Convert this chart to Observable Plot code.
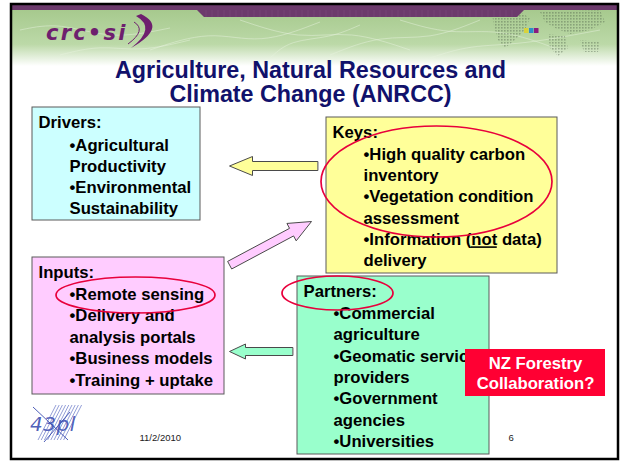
<!DOCTYPE html>
<html><head><meta charset="utf-8">
<script src="https://cdn.jsdelivr.net/npm/d3@7"></script>
<script src="https://cdn.jsdelivr.net/npm/@observablehq/plot@0.6"></script>
<style>html,body{margin:0;padding:0;background:#fff;} svg{display:block}</style>
</head><body><div id="chart"></div>
<script>
// ---- content ----
const titleLines = ["Agriculture, Natural Resources and", "Climate Change (ANRCC)"];
const boxHeads = ["Drivers:", "Keys:", "Inputs:", "Partners:"];
const driversItems = ["•Agricultural", "Productivity", "•Environmental", "Sustainability"];
const keysItems = ["•High quality carbon", "inventory", "•Vegetation condition", "assessment", "•Information (not data)", "delivery"];
const inputsItems = ["•Remote sensing", "•Delivery and", "analysis portals", "•Business models", "•Training + uptake"];
const partnersItems = ["•Commercial", "agriculture", "•Geomatic services", "providers", "•Government", "agencies", "•Universities"];
const calloutLines = ["NZ Forestry", "Collaboration?"];
const footerDate = "11/2/2010";
const pageNumber = "6";
const logoText = "crc•si";
const partnerLogo = "43pl";
const underlined = {line: "•Information (not data)", prefix: "•Information (", word: "not"};

// ---- layout (slide pixel coordinates) ----
const W = 623, H = 461;
const boxLayout = [
  {x1: 32, y1: 107, x2: 200, y2: 220, fill: "#ccffff", hx: 38, hy: 127.5, ix: 69, iy: 150, step: 21},
  {x1: 326, y1: 117, x2: 557, y2: 273, fill: "#ffff99", hx: 332, hy: 137, ix: 363, iy: 159.5, step: 21.2},
  {x1: 32, y1: 257, x2: 224, y2: 394, fill: "#ffccff", hx: 38, hy: 277, ix: 69, iy: 299, step: 21.6},
  {x1: 297, y1: 276, x2: 489, y2: 454, fill: "#99ffcc", hx: 303, hy: 296, ix: 333, iy: 318.5, step: 21.3}
];
const boxItems = [driversItems, keysItems, inputsItems, partnersItems];
const arrowLayout = [
  {tail: [317, 165.5], tip: [229, 165.5], shaft: 9, head: 19, headLen: 23, fill: "#ffff99"},
  {tail: [229.5, 264.5], tip: [311, 221], shaft: 8.6, head: 19.7, headLen: 22.6, fill: "#ffccff"},
  {tail: [292, 351], tip: [229, 351], shaft: 8, head: 15, headLen: 16, fill: "#99ffcc"}
];
const ellipseLayout = [
  {cx: 436.5, cy: 181.5, rx: 115.5, ry: 55.5},
  {cx: 135.5, cy: 295, rx: 79.5, ry: 18},
  {cx: 337.5, cy: 293, rx: 55.5, ry: 17}
];
const calloutBox = {x1: 465, y1: 349, x2: 605, y2: 396, cx: 535, y: [368, 388]};
const titleLayout = {cx: 310, y: [77.5, 101.5]};
const frame = {x1: 11, y1: 4, x2: 618, y2: 459};
const FONT = "'Liberation Sans', Arial, Helvetica, sans-serif";
const BODY = 16.7;

// ---- derived tables ----
const textRows = boxLayout.flatMap((b, i) => [
  {text: boxHeads[i], x: b.hx, y: b.hy},
  ...boxItems[i].map((t, j) => ({text: t, x: b.ix, y: b.iy + j * b.step}))
]);
const titleRows = titleLines.map((t, i) => ({text: t, x: titleLayout.cx, y: titleLayout.y[i]}));
const calloutRows = calloutLines.map((t, i) => ({text: t, x: calloutBox.cx, y: calloutBox.y[i]}));

const ctx = document.createElement("canvas").getContext("2d");
ctx.font = `bold ${BODY}px 'Liberation Sans'`;
const ulRow = textRows.find(r => r.text === underlined.line);
const ulX1 = ulRow.x + ctx.measureText(underlined.prefix).width;
const ulX2 = ulX1 + ctx.measureText(underlined.word).width;
const underlineRows = [{x1: ulX1, x2: ulX2, y: ulRow.y + 2.3}];

function arrowPolygon(a, id) {
  const [tx, ty] = a.tail, [px, py] = a.tip;
  const dx = px - tx, dy = py - ty, L = Math.hypot(dx, dy);
  const ux = dx / L, uy = dy / L, nx = -uy, ny = ux;
  const bx = px - ux * a.headLen, by = py - uy * a.headLen;
  const s = a.shaft / 2, h = a.head / 2;
  return [[tx + nx * s, ty + ny * s], [bx + nx * s, by + ny * s], [bx + nx * h, by + ny * h], [px, py],
          [bx - nx * h, by - ny * h], [bx - nx * s, by - ny * s], [tx - nx * s, ty - ny * s]]
    .map(([x, y]) => ({x, y, id}));
}

// ---- custom decorations drawn through the plot's scales ----
function header(index, {x, y}) {
  const g = d3.create("svg:g");
  const defs = g.append("defs");
  const lg = defs.append("linearGradient").attr("id", "hdrGrad").attr("x1", 0).attr("y1", 0).attr("x2", 0).attr("y2", 1);
  lg.append("stop").attr("offset", "0%").attr("stop-color", "#a6c98d");
  lg.append("stop").attr("offset", "62%").attr("stop-color", "#bcd9a8");
  lg.append("stop").attr("offset", "100%").attr("stop-color", "#ffffff");
  const pat = defs.append("pattern").attr("id", "dotPat").attr("width", 3).attr("height", 3).attr("patternUnits", "userSpaceOnUse");
  pat.append("rect").attr("width", 1.6).attr("height", 1.6).attr("fill", "#4d5f48");
  g.append("rect").attr("x", x(frame.x1)).attr("y", y(9)).attr("width", x(frame.x2) - x(frame.x1))
    .attr("height", y(66) - y(9)).attr("fill", "url(#hdrGrad)");
  // faint vein texture
  const veins = [
    [[20, 30], [60, 22], [110, 40], [170, 28]], [[150, 50], [210, 30], [260, 45], [320, 22]],
    [[240, 20], [300, 40], [350, 30], [410, 50]], [[330, 55], [380, 35], [430, 40], [480, 20]],
    [[400, 20], [450, 35], [500, 28], [560, 50]], [[60, 55], [100, 45], [140, 52], [190, 40]],
    [[270, 58], [290, 40], [330, 38], [360, 25]], [[430, 58], [470, 45], [520, 45], [600, 30]]
  ];
  const line = d3.line().curve(d3.curveBasis).x(d => x(d[0])).y(d => y(d[1]));
  veins.forEach(v => g.append("path").attr("d", line(v)).attr("fill", "none")
    .attr("stroke", "#e8f2df").attr("stroke-opacity", 0.6).attr("stroke-width", 0.8));
  // dotted world map hint
  const blobs = [
    "M 492 14 L 520 12 L 530 18 L 525 30 L 515 40 L 505 48 L 498 40 L 494 26 Z",
    "M 540 12 L 600 10 L 605 22 L 590 30 L 570 34 L 555 28 L 545 22 Z",
    "M 548 34 L 565 36 L 568 48 L 558 56 L 550 48 Z",
    "M 580 40 L 600 42 L 598 52 L 584 52 Z"
  ];
  blobs.forEach(b => g.append("path").attr("d", b.replace(/(\d+\.?\d*) (\d+\.?\d*)/g, (m, a, c) => `${x(+a)} ${y(+c)}`))
    .attr("fill", "url(#dotPat)").attr("opacity", 0.4));
  // purple band
  const band = [[11, 4], [618, 4], [618, 10], [524, 10], [517, 17], [204, 17], [197, 10], [11, 10]];
  g.append("path").attr("d", "M" + band.map(p => `${x(p[0])},${y(p[1])}`).join("L") + "Z").attr("fill", "#6c3a6c");
  for (let xi = 206; xi < 516; xi += 6) g.append("line").attr("x1", x(xi)).attr("x2", x(xi)).attr("y1", y(10)).attr("y2", y(17))
    .attr("stroke", "#7d4c7d").attr("stroke-width", 0.6);
  // small squares
  [["#d8d33a", 524], ["#2d8fc8", 529], ["#8b1c7f", 534]].forEach(([c, xs]) =>
    g.append("rect").attr("x", x(xs)).attr("y", y(28)).attr("width", x(xs + 4.5) - x(xs)).attr("height", y(33) - y(28)).attr("fill", c));
  // crc•si logo
  g.append("text").attr("x", x(46)).attr("y", y(40)).attr("text-anchor", "start")
    .attr("font-family", "'DejaVu Sans', Verdana, sans-serif").attr("font-weight", "bold")
    .attr("font-style", "italic").attr("font-size", 21).attr("letter-spacing", 2.2).attr("fill", "#6e1f6e").text(logoText);
  g.append("path").attr("d", `M ${x(141)} ${y(14)} Q ${x(168)} ${y(27)} ${x(131)} ${y(48)} Q ${x(157)} ${y(28)} ${x(136)} ${y(16)} Z`).attr("fill", "#6e1f6e");
  g.append("path").attr("d", `M ${x(134)} ${y(22)} Q ${x(147)} ${y(30)} ${x(128)} ${y(44)}`).attr("fill", "none").attr("stroke", "#6e1f6e").attr("stroke-width", 1);
  return g.node();
}

function ellipses(index, {x, y}) {
  const g = d3.create("svg:g");
  for (const e of ellipseLayout) {
    g.append("ellipse").attr("cx", x(e.cx)).attr("cy", y(e.cy))
      .attr("rx", x(e.cx + e.rx) - x(e.cx)).attr("ry", y(e.cy + e.ry) - y(e.cy))
      .attr("fill", "none").attr("stroke", "#e8003c").attr("stroke-width", 1.7);
  }
  return g.node();
}

function footerLogo(index, {x, y}) {
  const g = d3.create("svg:g");
  g.append("text").attr("x", x(30)).attr("y", y(431)).attr("text-anchor", "start")
    .attr("font-family", "'DejaVu Sans', sans-serif")
    .attr("font-style", "italic").attr("font-size", 20).attr("letter-spacing", 0.5).attr("fill", "#3a4cb0")
    .attr("fill-opacity", 0.9).text(partnerLogo);
  for (let k = 0; k < 9; k++) {
    const ox = 38 + k * 3.2;
    g.append("line").attr("x1", x(ox)).attr("y1", y(440)).attr("x2", x(ox + 18)).attr("y2", y(405))
      .attr("stroke", "#5566c0").attr("stroke-width", 0.8).attr("stroke-opacity", 0.8);
  }
  g.append("line").attr("x1", x(33)).attr("y1", y(407)).attr("x2", x(68)).attr("y2", y(440)).attr("stroke", "#3a4cb0").attr("stroke-width", 0.9);
  g.append("line").attr("x1", x(44)).attr("y1", y(442)).attr("x2", x(70)).attr("y2", y(412)).attr("stroke", "#3a4cb0").attr("stroke-width", 0.9);
  return g.node();
}

const chart = Plot.plot({
  width: W, height: H, margin: 0,
  style: {background: "white", fontFamily: FONT, overflow: "visible"},
  x: {domain: [0, W], range: [0, W], axis: null},
  y: {domain: [0, H], range: [0, H], axis: null},
  marks: [
    header,
    Plot.text(titleRows, {x: "x", y: "y", text: "text", textAnchor: "middle", lineAnchor: "bottom",
      fontSize: 23.3, fontWeight: "bold", fill: "#11116b", fontFamily: FONT}),
    Plot.rect(boxLayout, {x1: "x1", x2: "x2", y1: "y1", y2: "y2", fill: "fill", stroke: "#5a5a5a", strokeWidth: 1}),
    ...arrowLayout.map((a, i) => Plot.line(arrowPolygon(a, i), {x: "x", y: "y", curve: "linear-closed",
      fill: a.fill, stroke: "#4a4a4a", strokeWidth: 1})),
    Plot.text(textRows, {x: "x", y: "y", text: "text", textAnchor: "start", lineAnchor: "bottom",
      fontSize: BODY, fontWeight: "bold", fill: "#000", fontFamily: FONT}),
    Plot.ruleY(underlineRows, {y: "y", x1: "x1", x2: "x2", stroke: "#000", strokeWidth: 1.6}),
    ellipses,
    Plot.rect([calloutBox], {x1: "x1", x2: "x2", y1: "y1", y2: "y2", fill: "#ff0033"}),
    Plot.text(calloutRows, {x: "x", y: "y", text: "text", textAnchor: "middle", lineAnchor: "bottom",
      fontSize: BODY, fontWeight: "bold", fill: "#fff", fontFamily: FONT}),
    footerLogo,
    Plot.text([{t: footerDate, x: 139, y: 440}, {t: pageNumber, x: 508, y: 440}], {x: "x", y: "y", text: "t",
      textAnchor: "start", lineAnchor: "bottom", fontSize: 9.5, fill: "#222", fontFamily: FONT}),
    Plot.rect([frame], {x1: "x1", x2: "x2", y1: "y1", y2: "y2", fill: "none", stroke: "#000", strokeWidth: 2.5})
  ]
});
document.getElementById("chart").appendChild(chart);
</script>
</body></html>
